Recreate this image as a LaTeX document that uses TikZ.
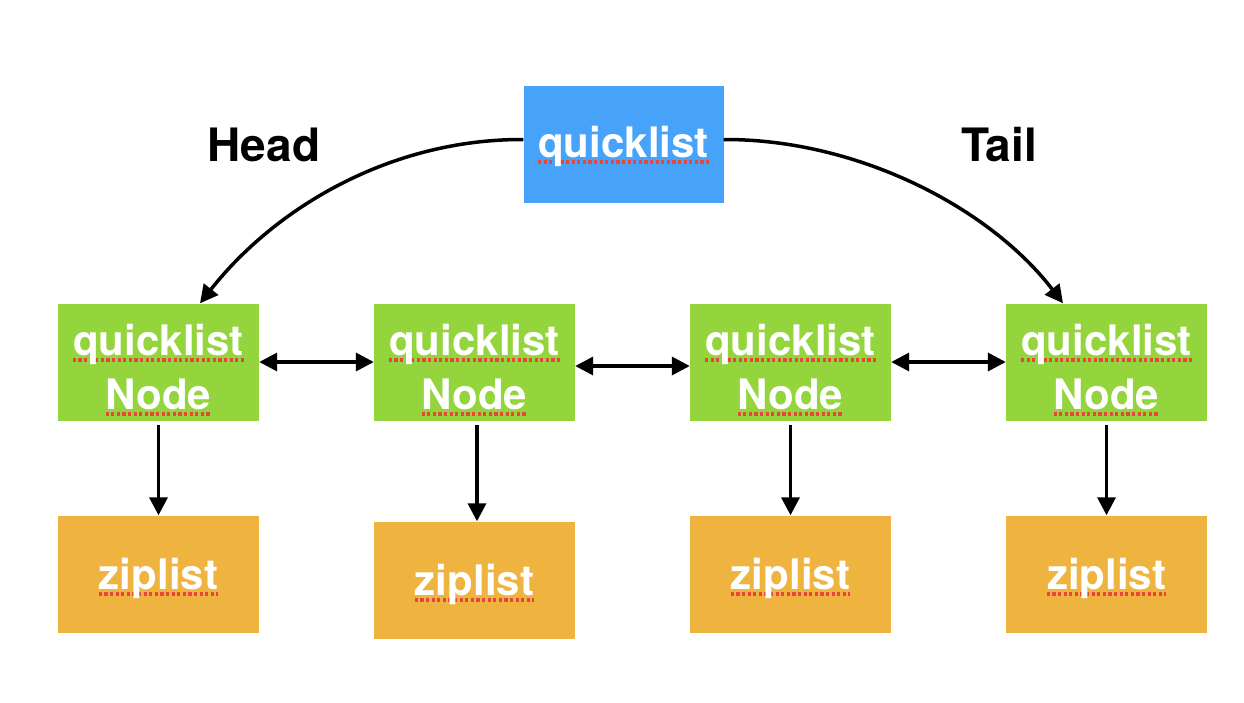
\documentclass[tikz,border=0pt]{standalone}
\usepackage{fontspec}
\setmainfont{TeX Gyre Heros}
\usetikzlibrary{arrows.meta}
\definecolor{qlblue}{HTML}{47A3FA}
\definecolor{qlgreen}{HTML}{94D43C}
\definecolor{qlorange}{HTML}{EFB440}
\definecolor{spellred}{HTML}{E8463A}
\pgfdeclarelayer{boxlayer}
\pgfdeclarelayer{marklayer}
\pgfsetlayers{boxlayer,marklayer,main}
\begin{document}
\begin{tikzpicture}[x=1pt,y=-1pt,
  box/.style={rectangle, inner sep=0, minimum width=201pt, minimum height=117pt},
  headbox/.style={box, fill=qlblue, minimum width=200pt},
  nodebox/.style={box, fill=qlgreen},
  zipbox/.style={box, fill=qlorange},
  boxtext/.style={inner sep=0, anchor=base, text=white, font=\fontsize{42}{50}\selectfont\bfseries},
  labeltext/.style={inner sep=0, font=\fontsize{46}{54}\selectfont\bfseries},
  squiggle/.style={draw=spellred, line width=3.4pt, dash pattern=on 3.2pt off 2.4pt},
  conn/.style={draw=black, line width=3.5pt, -{Triangle[length=18pt,width=18pt]}},
  dconn/.style={draw=black, line width=3.5pt, {Triangle[length=18pt,width=18pt]}-{Triangle[length=18pt,width=18pt]}}
]
\path[use as bounding box] (0,0) rectangle (1244,702);

% boxes
\begin{pgfonlayer}{boxlayer}
\node[headbox] (b) at (623.5,144.5) {};
\node[nodebox] (g1) at (158.5,362) {};
\node[nodebox] (g2) at (474.5,362) {};
\node[nodebox] (g3) at (790.5,362) {};
\node[nodebox] (g4) at (1106.5,362) {};
\node[zipbox] (z1) at (158.5,574) {};
\node[zipbox] (z2) at (474.5,580) {};
\node[zipbox] (z3) at (790.5,574) {};
\node[zipbox] (z4) at (1106.5,574) {};
\end{pgfonlayer}

% texts
\node[boxtext] (tb) at (623.5,157) {quicklist};
\foreach \i/\x in {1/158.5,2/474.5,3/790.5,4/1106.5}{
  \node[boxtext] (tq\i) at (\x,355) {quicklist};
  \node[boxtext] (tn\i) at (\x,409) {Node};
}
\node[boxtext] (tz1) at (158.5,589) {ziplist};
\node[boxtext] (tz2) at (474.5,595) {ziplist};
\node[boxtext] (tz3) at (790.5,589) {ziplist};
\node[boxtext] (tz4) at (1106.5,589) {ziplist};

% spell-check underlines (behind the text)
\begin{pgfonlayer}{marklayer}
\foreach \t in {tb,tq1,tq2,tq3,tq4,tn1,tn2,tn3,tn4,tz1,tz2,tz3,tz4}{
  \draw[squiggle] ([yshift=-5pt]\t.base west) -- ([yshift=-5pt]\t.base east);
}
\end{pgfonlayer}

% labels
\node[labeltext] (head) at (264,145) {Head};
\node[labeltext] (tail) at (999,145) {Tail};

% curved pointers
\draw[conn] ([yshift=5pt]b.west) .. controls (390,139) and (275,208) .. ([xshift=41.5pt]g1.north);
\draw[conn] ([yshift=5pt]b.east) .. controls (858,139) and (990,208) .. ([xshift=-43.5pt]g4.north);

% doubly linked
\draw[dconn] (g1.east) -- (g2.west);
\draw[dconn] ([yshift=-4pt]g2.east) -- ([yshift=-4pt]g3.west);
\draw[dconn] (g3.east) -- (g4.west);

% node -> ziplist
\draw[conn] ([yshift=-4pt]g1.south) -- (z1.north);
\draw[conn] ([xshift=2.5pt,yshift=-4pt]g2.south) -- ([xshift=2.5pt]z2.north);
\draw[conn] ([yshift=-4pt]g3.south) -- (z3.north);
\draw[conn] ([yshift=-4pt]g4.south) -- (z4.north);
\end{tikzpicture}
\end{document}
